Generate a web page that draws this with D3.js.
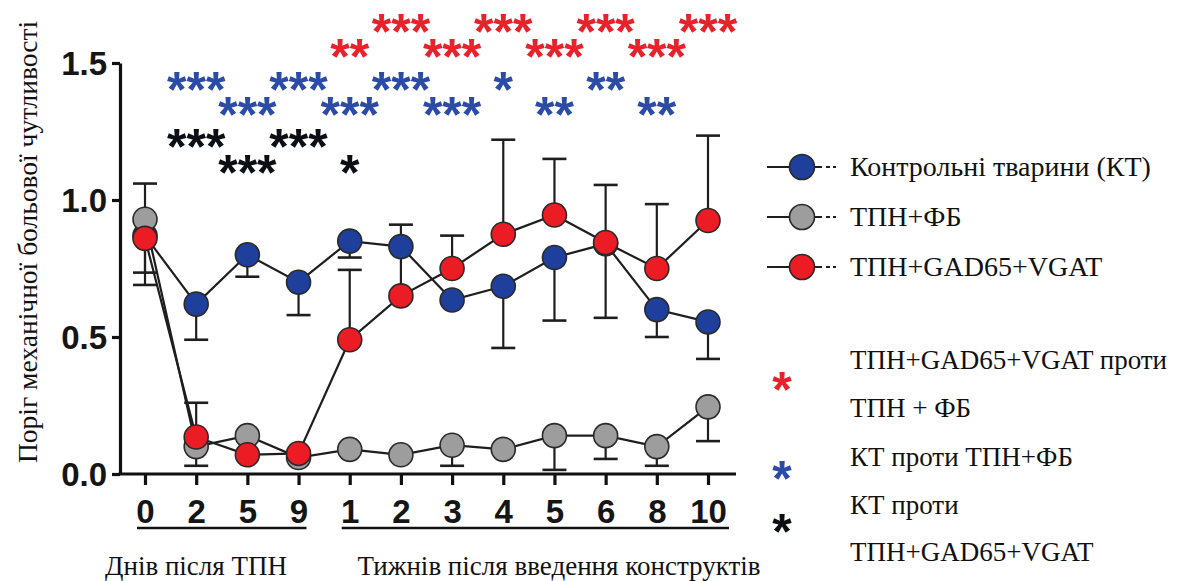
<!DOCTYPE html>
<html><head><meta charset="utf-8">
<script src="https://cdn.jsdelivr.net/npm/d3@7"></script>
<style>
html,body{margin:0;padding:0;background:#fff;}
svg{display:block;}
.serif{font-family:"Liberation Serif","Tinos","Times New Roman","DejaVu Serif","Noto Serif",serif;}
</style></head>
<body>
<svg id="chart" width="1187" height="581"></svg>
<script>
// ---- data ----
const categories = ["d0","d2","d5","d9","w1","w2","w3","w4","w5","w6","w8","w10"];
const tickLabels = ["0","2","5","9","1","2","3","4","5","6","8","10"];
const yTicks = [0.0, 0.5, 1.0, 1.5];

const seriesNames = ["Контрольні тварини (КТ)", "ТПН+ФБ", "ТПН+GAD65+VGAT"];
const controlValues = [0.87, 0.62, 0.80, 0.70, 0.85, 0.83, 0.635, 0.685, 0.79, 0.84, 0.60, 0.555];
const controlErrEnd = [0.735, 0.49, 0.72, 0.58, 0.79, 0.91, null, 0.46, 0.56, 0.57, 0.50, 0.42];
const tpnFbValues   = [0.93, 0.10, 0.14, 0.06, 0.09, 0.07, 0.105, 0.09, 0.14, 0.14, 0.10, 0.245];
const tpnFbErrEnd   = [1.06, 0.03, null, null, null, null, 0.03, null, 0.015, 0.055, 0.03, 0.12];
const gadValues     = [0.86, 0.135, 0.07, 0.075, 0.49, 0.65, 0.75, 0.875, 0.945, 0.845, 0.75, 0.925];
const gadErrEnd     = [0.69, 0.26, null, null, 0.745, 0.83, 0.87, 1.22, 1.15, 1.055, 0.985, 1.235];

const groupLabels = ["Днів після ТПН", "Тижнів після введення конструктів"];
const groupRanges = [["d0","d9"], ["w1","w10"]];

// significance marks: [category, text]
const sigRedRow1   = [["w2","***"],["w4","***"],["w6","***"],["w10","***"]];
const sigRedRow2   = [["w1","**"],["w3","***"],["w5","***"],["w8","***"]];
const sigBlueRow1  = [["d2","***"],["d9","***"],["w2","***"],["w4","*"],["w6","**"]];
const sigBlueRow2  = [["d5","***"],["w1","***"],["w3","***"],["w5","**"],["w8","**"]];
const sigBlackRow1 = [["d2","***"],["d9","***"]];
const sigBlackRow2 = [["d5","***"],["w1","*"]];

const sigLegend = [
  ["ТПН+GAD65+VGAT проти", "ТПН + ФБ"],
  ["КТ проти ТПН+ФБ"],
  ["КТ проти", "ТПН+GAD65+VGAT"]
];

// ---- styles ----
const colBlue = "#1f3f9c", colGray = "#9d9d9d", colRed = "#ec1c24";
const starBlue = "#2b4ba6", starRed = "#e8222a", starBlack = "#0b0f14";
const ink = "#1e1e1e";

const svg = d3.select("#chart");
const x = d3.scalePoint().domain(categories).range([145, 708]);
const y = d3.scaleLinear().domain([0, 1.5]).range([474, 63]);

// axes
const yAxis = d3.axisLeft(y).tickValues(yTicks).tickFormat(d3.format(".1f")).tickSize(8).tickSizeOuter(0);
const gy = svg.append("g").attr("transform","translate(120,0)").call(yAxis);
gy.select(".domain").attr("stroke","#111").attr("stroke-width",3.2);
gy.selectAll(".tick line").attr("stroke","#111").attr("stroke-width",3.2);
gy.selectAll(".tick text").attr("font-family","'Liberation Sans', Arial, sans-serif")
  .attr("font-weight","bold").attr("font-size",33).attr("fill","#151515").attr("x",-13).attr("dy","0.36em");

const xAxis = d3.axisBottom(x).tickFormat((d,i)=>tickLabels[i]).tickSize(11).tickSizeOuter(0);
const gx = svg.append("g").attr("transform","translate(0,474)").call(xAxis);
gx.select(".domain").remove();
gx.append("line").attr("x1",118.5).attr("x2",736).attr("y1",0).attr("y2",0).attr("stroke","#111").attr("stroke-width",3.2);
gx.selectAll(".tick line").attr("stroke","#111").attr("stroke-width",3.2);
gx.selectAll(".tick text").attr("font-family","'Liberation Sans', Arial, sans-serif")
  .attr("font-weight","bold").attr("font-size",33).attr("fill","#151515").attr("y",49).attr("dy",0);

// group underlines & labels
const padL = [8, 8], padR = [8, 21];
groupRanges.forEach((r,i)=>{
  const x1 = x(r[0]) - padL[i], x2 = x(r[1]) + padR[i];
  svg.append("line").attr("x1",x1).attr("x2",x2).attr("y1",528).attr("y2",528)
    .attr("stroke","#111").attr("stroke-width",2.5);
});
svg.append("text").attr("class","serif").attr("x",196).attr("y",575).attr("text-anchor","middle")
  .attr("font-size",27).attr("fill","#111").text(groupLabels[0]);
svg.append("text").attr("class","serif").attr("x",559).attr("y",575).attr("text-anchor","middle")
  .attr("font-size",27).attr("fill","#111").text(groupLabels[1]);

// y label
svg.append("text").attr("class","serif").attr("transform","translate(37,242) rotate(-90)").attr("text-anchor","middle")
  .attr("font-size",27.5).attr("fill","#111")
  .text("Поріг механічної больової чутливості");

// series
const series = [
  {vals: controlValues, err: controlErrEnd, fill: colBlue},
  {vals: tpnFbValues, err: tpnFbErrEnd, fill: colGray},
  {vals: gadValues, err: gadErrEnd, fill: colRed}
];
const capW = 12;
const gErr = svg.append("g");
series.forEach(s=>{
  s.err.forEach((e,i)=>{
    if(e===null) return;
    const cx = x(categories[i]);
    gErr.append("line").attr("x1",cx).attr("x2",cx).attr("y1",y(s.vals[i])).attr("y2",y(e))
      .attr("stroke",ink).attr("stroke-width",2.2);
    gErr.append("line").attr("x1",cx-capW).attr("x2",cx+capW).attr("y1",y(e)).attr("y2",y(e))
      .attr("stroke",ink).attr("stroke-width",2.6);
  });
});
const line = d3.line().x((d,i)=>x(categories[i])).y(d=>y(d));
series.forEach(s=>{
  const g = svg.append("g");
  g.append("path").attr("d",line(s.vals)).attr("fill","none").attr("stroke",ink).attr("stroke-width",2.2);
  g.selectAll("circle").data(s.vals).join("circle")
    .attr("cx",(d,i)=>x(categories[i])).attr("cy",d=>y(d)).attr("r",12)
    .attr("fill",s.fill).attr("stroke","#2a2a2a").attr("stroke-width",1.6);
});

// significance stars
function stars(rows, yc, color){
  svg.append("g").selectAll("text").data(rows).join("text")
    .attr("x",d=>x(d[0])).attr("y",yc+29).attr("text-anchor","middle")
    .attr("font-family","'Liberation Sans', Arial, sans-serif").attr("font-weight","bold")
    .attr("font-size",50).attr("fill",color).text(d=>d[1]);
}
stars(sigRedRow1, 20, starRed);
stars(sigRedRow2, 45, starRed);
stars(sigBlueRow1, 78, starBlue);
stars(sigBlueRow2, 103, starBlue);
stars(sigBlackRow1, 135, starBlack);
stars(sigBlackRow2, 161, starBlack);

// legend
const legY = [167, 217, 267];
const fills = [colBlue, colGray, colRed];
const lg = svg.append("g");
seriesNames.forEach((n,i)=>{
  lg.append("line").attr("x1",767).attr("x2",822).attr("y1",legY[i]).attr("y2",legY[i]).attr("stroke",ink).attr("stroke-width",2);
  lg.append("line").attr("x1",826).attr("x2",836).attr("y1",legY[i]).attr("y2",legY[i]).attr("stroke",ink).attr("stroke-width",2).attr("stroke-dasharray","4,3");
  lg.append("circle").attr("cx",802).attr("cy",legY[i]).attr("r",12.5).attr("fill",fills[i]).attr("stroke","#2a2a2a").attr("stroke-width",1.6);
  lg.append("text").attr("class","serif").attr("x",850).attr("y",legY[i]+9)
    .attr("font-size",28).attr("fill","#111").text(n);
});
const sigLegStarY = [378, 467, 520];
const sigLegTextY = [[360,408],[457],[505,552]];
const sigCols = [starRed, starBlue, starBlack];
sigLegend.forEach((lines,i)=>{
  lg.append("text").attr("x",782).attr("y",sigLegStarY[i]+29).attr("text-anchor","middle")
    .attr("font-family","'Liberation Sans', Arial, sans-serif").attr("font-weight","bold")
    .attr("font-size",50).attr("fill",sigCols[i]).text("*");
  lines.forEach((t,j)=>{
    lg.append("text").attr("class","serif").attr("x",850).attr("y",sigLegTextY[i][j]+9)
      .attr("font-size",27).attr("fill","#111").text(t);
  });
});
</script>
</body></html>
